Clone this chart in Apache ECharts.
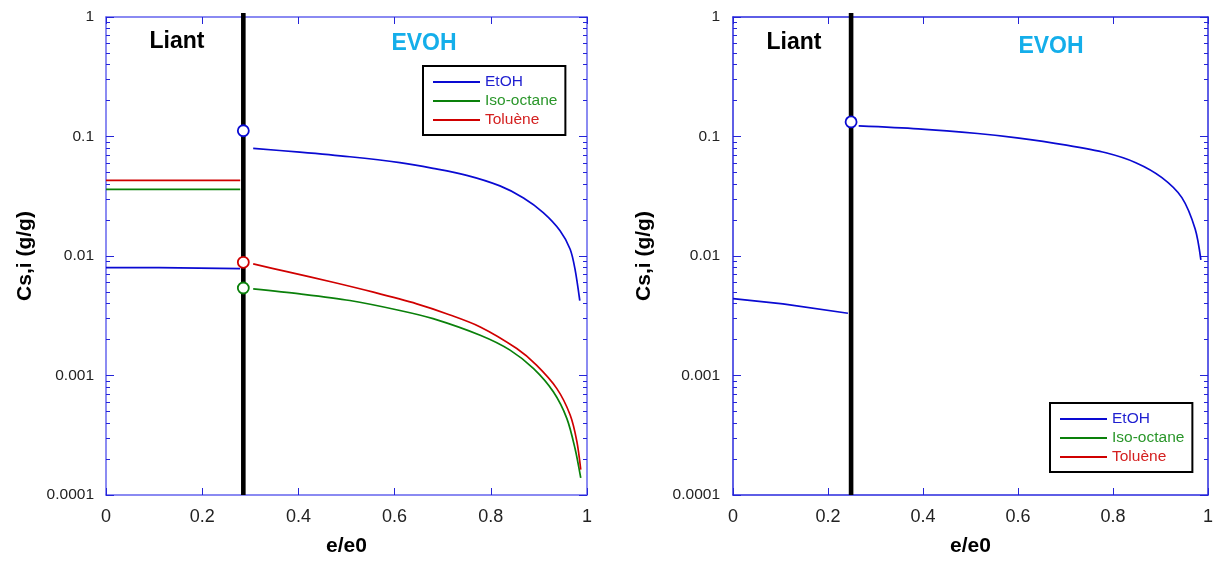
<!DOCTYPE html>
<html>
<head>
<meta charset="utf-8">
<script src="https://cdn.jsdelivr.net/npm/echarts@6/dist/echarts.min.js"></script>
<style>
html,body{margin:0;padding:0;background:#fff;}
#chart{width:1216px;height:562px;}
</style>
</head>
<body>
<div id="chart"></div>
<script>
// ---------- data ----------
const seriesNames = ['EtOH', 'Iso-octane', 'Toluène'];
const xTickInterval = 0.2;
const yTickValues = [0.0001, 0.001, 0.01, 0.1, 1];
const yTickLabels = ['0.0001', '0.001', '0.01', '0.1', '1'];
const yMinorMultipliers = [2, 3, 4, 5, 6, 7, 8, 9];
const xAxisName = 'e/e0';
const yAxisName = 'Cs,i (g/g)';
const zoneLabels = ['Liant', 'EVOH'];

// left panel
const leftInterfaceX = 0.2855;
const leftEtohLiant = [[0, 0.0080], [0.11, 0.0080], [0.11, 0.00784], [0.279, 0.00784]];
const leftIsoLiant = [[0, 0.0361], [0.279, 0.0361]];
const leftTolLiant = [[0, 0.043], [0.279, 0.043]];
const leftEtohEvoh = [[0.306, 0.0794], [0.403, 0.0740], [0.507, 0.0677], [0.611, 0.0604], [0.680, 0.0541], [0.750, 0.0473], [0.819, 0.0386], [0.868, 0.0306], [0.909, 0.0231], [0.944, 0.0163], [0.965, 0.0114], [0.975, 0.0078], [0.985, 0.00424]];
const leftTolEvoh = [[0.306, 0.00858], [0.376, 0.0074], [0.472, 0.00603], [0.556, 0.00498], [0.646, 0.00398], [0.708, 0.00329], [0.778, 0.00255], [0.854, 0.00168], [0.895, 0.00122], [0.937, 0.00078], [0.965, 0.000467], [0.979, 0.00028], [0.987, 0.000163]];
const leftIsoEvoh = [[0.306, 0.00531], [0.403, 0.00482], [0.507, 0.00424], [0.611, 0.0035], [0.680, 0.00299], [0.778, 0.00217], [0.840, 0.00163], [0.889, 0.00114], [0.930, 0.00073], [0.958, 0.000438], [0.975, 0.000246], [0.987, 0.000139]];
const leftInterfaceEtoh = 0.1117;
const leftInterfaceIso = 0.0054;
const leftInterfaceTol = 0.00886;

// right panel
const rightInterfaceX = 0.2486;
const rightEtohLiant = [[0, 0.00440], [0.105, 0.00398], [0.242, 0.00332]];
const rightEtohEvoh = [[0.2646, 0.1228], [0.390, 0.116], [0.515, 0.106], [0.598, 0.0975], [0.702, 0.0847], [0.785, 0.0731], [0.848, 0.0604], [0.903, 0.0453], [0.945, 0.0308], [0.973, 0.0168], [0.985, 0.0093]];
const rightInterfaceEtoh = 0.1325;

const interfaceSpan = [0.0001, 1.08];

// ---------- styles ----------
const FONT = 'Liberation Sans, Arial, sans-serif';
const C_ETOH = '#0a0ad2', C_ISO = '#0a800a', C_TOL = '#d00000';
const legendText = {EtOH: '#1f1fd0', 'Iso-octane': '#2a962a', 'Toluène': '#d42020'};
const seriesColor = {EtOH: C_ETOH, 'Iso-octane': C_ISO, 'Toluène': C_TOL};

const yMinorValues = [];
for (let k = -4; k < 0; k++) for (const m of yMinorMultipliers) yMinorValues.push(+(m * Math.pow(10, k)).toPrecision(3));

function makeYAxes(gridIndex, frameColor, tickColor, labelMargin, nameGap) {
  const base = {type: 'log', gridIndex, min: 0.0001, max: 1, logBase: 10, splitLine: {show: false}, minorTick: {show: false}};
  return [
    Object.assign({}, base, {
      position: 'left', name: yAxisName, nameLocation: 'middle', nameGap,
      nameTextStyle: {fontFamily: FONT, fontWeight: 'bold', fontSize: 21, color: '#000'},
      axisLine: {show: true, lineStyle: {color: frameColor, width: 1.5}},
      axisTick: {show: true, inside: true, length: 8, customValues: yTickValues, lineStyle: {color: tickColor, width: 1}},
      axisLabel: {show: true, customValues: yTickValues, margin: labelMargin, fontFamily: FONT, fontSize: 15.5, color: '#222',
        formatter: v => yTickLabels[yTickValues.findIndex(t => Math.abs(Math.log10(t) - Math.log10(v)) < 1e-6)]}
    }),
    Object.assign({}, base, {
      position: 'left', axisLine: {show: false},
      axisTick: {show: true, inside: true, length: 4, customValues: yMinorValues, lineStyle: {color: tickColor, width: 1}},
      axisLabel: {show: false}
    }),
    Object.assign({}, base, {
      position: 'right', axisLine: {show: true, lineStyle: {color: frameColor, width: 1.5}},
      axisTick: {show: true, inside: true, length: 8, customValues: yTickValues, lineStyle: {color: tickColor, width: 1}},
      axisLabel: {show: false}
    }),
    Object.assign({}, base, {
      position: 'right', axisLine: {show: false},
      axisTick: {show: true, inside: true, length: 4, customValues: yMinorValues, lineStyle: {color: tickColor, width: 1}},
      axisLabel: {show: false}
    })
  ];
}
function makeXAxes(gridIndex, frameColor, tickColor) {
  const base = {type: 'value', gridIndex, min: 0, max: 1, interval: xTickInterval, splitLine: {show: false}};
  return [
    Object.assign({}, base, {
      position: 'bottom', name: xAxisName, nameLocation: 'middle', nameGap: 41,
      nameTextStyle: {fontFamily: FONT, fontWeight: 'bold', fontSize: 21, color: '#000'},
      axisLine: {show: true, lineStyle: {color: frameColor, width: 1.5}},
      axisTick: {show: true, inside: true, length: 7, lineStyle: {color: tickColor, width: 1}},
      axisLabel: {show: true, margin: 13, fontFamily: FONT, fontSize: 18, color: '#222', formatter: v => String(+v.toFixed(1))}
    }),
    Object.assign({}, base, {
      position: 'top',
      axisLine: {show: true, lineStyle: {color: frameColor, width: 1.5}},
      axisTick: {show: true, inside: true, length: 7, lineStyle: {color: tickColor, width: 1}},
      axisLabel: {show: false}
    })
  ];
}

function line(name, data, xi, yi, color, smooth) {
  return {type: 'line', name, data, xAxisIndex: xi, yAxisIndex: yi, showSymbol: false, symbol: 'none',
    smooth: smooth || false,
    lineStyle: {color, width: 1.7}, itemStyle: {color}, animation: false, z: 3, silent: true};
}
function vline(x, xi, yi) {
  return {type: 'line', name: 'interface', data: [[x, interfaceSpan[0]], [x, interfaceSpan[1]]], xAxisIndex: xi, yAxisIndex: yi,
    showSymbol: false, symbol: 'none', clip: false, lineStyle: {color: '#000', width: 4.6}, animation: false, z: 2, silent: true};
}
function dot(name, x, y, color, xi, yi) {
  return {type: 'scatter', name, data: [[x, y]], xAxisIndex: xi, yAxisIndex: yi, symbol: 'circle', symbolSize: 11,
    itemStyle: {color: '#fff', borderColor: color, borderWidth: 1.8, opacity: 1}, animation: false, z: 5, silent: true};
}
function legendBox(left, top) {
  return {
    show: true, orient: 'vertical', left, top, icon: 'rect', itemWidth: 47, itemHeight: 2, itemGap: 3,
    padding: [8, 8, 7, 10], borderColor: '#000', borderWidth: 2, backgroundColor: '#fff',
    textStyle: {fontFamily: FONT, fontSize: 15.5, lineHeight: 16},
    selectedMode: false,
    data: seriesNames.map(n => ({name: n, itemStyle: {color: seriesColor[n]}, textStyle: {color: legendText[n]}}))
  };
}

const option = {
  backgroundColor: '#fff',
  animation: false,
  grid: [
    {left: 106, top: 17, width: 481, height: 480, containLabel: false},
    {left: 733, top: 17, width: 480, height: 481, containLabel: false}
  ],
  legend: [legendBox(423, 66), legendBox(1050, 403)],
  xAxis: [].concat(makeXAxes(0, '#6464ee', '#2424d8'), makeXAxes(1, '#2a2ade', '#2424d8')),
  yAxis: [].concat(makeYAxes(0, '#6464ee', '#2424d8', 12, 70), makeYAxes(1, '#2a2ade', '#2424d8', 13, 78)),
  graphic: [
    {type: 'text', style: {text: zoneLabels[0], x: 177, y: 42, align: 'center', verticalAlign: 'middle', textAlign: 'center', textVerticalAlign: 'middle', font: 'bold 23px ' + FONT, fill: '#000'}},
    {type: 'text', style: {text: zoneLabels[1], x: 424, y: 44, align: 'center', verticalAlign: 'middle', textAlign: 'center', textVerticalAlign: 'middle', font: 'bold 23px ' + FONT, fill: '#14aeea'}},
    {type: 'text', style: {text: zoneLabels[0], x: 794, y: 43, align: 'center', verticalAlign: 'middle', textAlign: 'center', textVerticalAlign: 'middle', font: 'bold 23px ' + FONT, fill: '#000'}},
    {type: 'text', style: {text: zoneLabels[1], x: 1051, y: 47, align: 'center', verticalAlign: 'middle', textAlign: 'center', textVerticalAlign: 'middle', font: 'bold 23px ' + FONT, fill: '#14aeea'}}
  ],
  series: [
    vline(leftInterfaceX, 0, 0),
    line('EtOH', leftEtohLiant, 0, 0, C_ETOH),
    line('Iso-octane', leftIsoLiant, 0, 0, C_ISO),
    line('Toluène', leftTolLiant, 0, 0, C_TOL),
    line('EtOH', leftEtohEvoh, 0, 0, C_ETOH, 0.3),
    line('Iso-octane', leftIsoEvoh, 0, 0, C_ISO, 0.3),
    line('Toluène', leftTolEvoh, 0, 0, C_TOL, 0.3),
    dot('EtOH interface', leftInterfaceX, leftInterfaceEtoh, C_ETOH, 0, 0),
    dot('Iso-octane interface', leftInterfaceX, leftInterfaceIso, C_ISO, 0, 0),
    dot('Toluène interface', leftInterfaceX, leftInterfaceTol, C_TOL, 0, 0),

    vline(rightInterfaceX, 2, 4),
    line('EtOH', rightEtohLiant, 2, 4, C_ETOH),
    line('EtOH', rightEtohEvoh, 2, 4, C_ETOH, 0.3),
    dot('EtOH interface', rightInterfaceX, rightInterfaceEtoh, C_ETOH, 2, 4)
  ]
};

const chart = echarts.init(document.getElementById('chart'), null, {renderer: 'canvas'});
chart.setOption(option);
</script>
</body>
</html>
